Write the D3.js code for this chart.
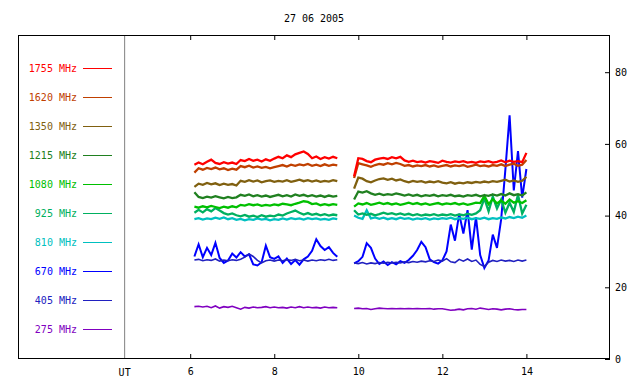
<!DOCTYPE html>
<html><head><meta charset="utf-8">
<script src="https://cdn.jsdelivr.net/npm/d3@7"></script>
<style>body{margin:0;background:#fff}svg text{font-family:"DejaVu Sans Mono",monospace;font-size:10px}</style>
</head><body><svg id="c" width="640" height="384"></svg>
<script>
const title = "27 06 2005";
const labels = ["1755 MHz","1620 MHz","1350 MHz","1215 MHz","1080 MHz","925 MHz","810 MHz","670 MHz","405 MHz","275 MHz"];
const colors = ["#ff0000","#c04000","#806010","#208020","#00c000","#00b060","#00c0c0","#0000ff","#2020c0","#8000c0"];
const hourTicks = [6,8,10,12,14];
const valueTicks = [0,20,40,60,80];
const utLabel = "UT";
const utHour = 4.44;

const t1 = [6.1,6.2,6.3,6.4,6.5,6.6,6.7,6.8,6.9,7.0,7.1,7.2,7.3,7.4,7.5,7.6,7.7,7.8,7.9,8.0,8.1,8.2,8.3,8.4,8.5,8.6,8.7,8.8,8.9,9.0,9.1,9.2,9.3,9.4,9.5];
const t2 = [9.9,10.0,10.1,10.2,10.3,10.4,10.5,10.6,10.7,10.8,10.9,11.0,11.1,11.2,11.3,11.4,11.5,11.6,11.7,11.8,11.9,12.0,12.1,12.2,12.3,12.4,12.5,12.6,12.7,12.8,12.9,13.0,13.1,13.2,13.3,13.4,13.5,13.6,13.7,13.8,13.9,14.0];

const f1755a = [54.2,54.8,54.3,55.0,55.6,54.7,54.4,54.9,54.5,54.8,54.4,55.5,55.2,55.8,55.3,55.6,55.1,55.7,55.3,55.9,56.4,56.0,56.8,56.3,57.1,57.5,57.9,57.2,56.0,56.5,55.8,56.3,55.9,56.4,56.0];
const f1755b = [51.0,56.0,55.8,55.2,54.9,55.6,55.9,56.1,55.8,56.3,56.0,56.4,55.4,55.0,55.3,54.9,55.1,54.8,55.2,55.0,54.7,55.3,55.0,54.8,55.1,54.9,55.2,54.8,55.0,54.7,55.1,54.9,55.2,54.8,55.0,55.4,54.9,55.3,55.0,55.2,54.9,57.5];
const f1620a = [52.0,53.2,52.8,53.3,53.0,53.4,52.9,53.2,52.7,53.1,52.8,53.8,53.5,53.9,53.4,53.7,53.3,53.6,53.2,53.5,53.8,54.1,53.7,54.2,53.9,54.3,54.0,54.4,53.9,54.2,53.8,54.3,53.9,54.2,54.0];
const f1620b = [50.5,54.6,54.3,54.0,53.6,54.1,54.4,54.2,54.6,54.3,54.7,54.4,53.9,54.1,53.7,54.0,53.8,54.1,53.7,54.0,53.6,53.9,54.1,53.7,54.0,53.8,54.1,53.6,53.9,54.2,53.8,54.0,53.7,54.1,53.9,54.3,53.8,54.2,54.5,53.9,54.2,55.5];
const f1350a = [48.0,48.9,48.6,49.1,48.7,49.0,48.5,48.9,48.6,48.8,48.4,49.7,49.4,49.9,49.5,49.8,49.3,49.6,49.8,49.4,49.7,49.5,49.9,49.4,49.7,50.0,49.6,49.9,49.5,49.8,49.4,49.7,49.5,49.9,49.6];
const f1350b = [47.5,50.6,50.3,49.6,49.3,49.8,50.2,50.4,50.0,50.3,49.8,50.1,49.6,49.3,49.7,49.4,49.6,49.2,49.5,49.3,49.6,49.2,49.0,49.3,48.9,49.2,49.0,49.3,49.1,49.4,49.2,49.5,49.3,49.6,49.4,49.7,50.0,49.5,49.8,49.4,49.7,50.8];
const f1215a = [46.5,45.2,44.9,45.3,45.0,45.4,45.1,44.8,45.2,44.9,45.1,45.8,45.5,45.9,45.4,45.7,45.3,45.6,45.2,45.5,45.8,45.4,45.7,45.3,45.9,45.5,45.8,45.4,45.7,45.3,45.6,45.2,45.6,45.3,45.5];
const f1215b = [44.5,46.7,46.4,46.8,46.2,45.8,46.1,45.7,46.0,45.8,46.2,45.9,45.6,45.9,45.5,45.8,45.4,45.7,45.5,45.8,45.4,45.7,45.5,45.8,45.4,45.6,45.3,45.7,45.5,45.8,45.4,45.7,45.5,45.9,45.6,46.0,45.6,46.2,45.7,46.0,45.6,46.5];
const f1080a = [42.5,42.2,42.6,42.3,42.7,42.4,42.1,42.5,42.2,42.6,42.3,43.0,42.8,43.2,42.9,43.1,42.7,43.0,42.8,43.1,42.9,43.3,43.1,42.9,43.3,43.6,44.0,43.8,43.2,43.4,42.9,43.2,42.9,43.2,43.0];
const f1080b = [42.5,43.4,43.1,43.5,43.0,43.3,43.6,43.2,43.5,43.1,43.4,43.0,43.3,43.6,43.2,43.5,43.1,43.4,43.0,43.3,43.5,43.1,43.4,43.2,43.5,43.1,43.4,43.0,43.3,43.6,43.5,45.5,43.2,44.6,43.4,44.2,43.3,44.5,43.6,44.0,43.5,44.3];
const f925a = [40.8,41.6,40.9,41.8,41.2,42.1,41.4,40.7,40.3,40.6,40.1,39.8,40.2,39.7,40.0,39.6,40.1,39.7,40.0,39.8,40.3,40.0,40.6,41.0,41.4,40.8,40.3,40.7,40.2,40.5,40.1,40.4,40.0,40.3,40.1];
const f925b = [41.5,40.3,40.6,40.2,40.5,40.1,40.4,40.8,40.4,40.7,40.3,40.6,40.2,40.5,40.1,40.4,40.0,40.3,40.1,40.4,40.0,40.3,40.1,40.4,40.0,40.3,40.1,40.5,40.2,40.6,41.5,44.8,41.2,45.3,42.0,44.5,40.8,43.6,41.0,45.8,40.6,43.0];
const f810a = [39.0,39.3,38.9,39.2,39.0,39.4,39.1,39.5,39.0,39.3,38.8,39.1,38.7,39.0,38.8,39.2,38.9,39.1,38.7,39.0,38.8,39.2,38.9,39.3,39.0,39.2,38.9,39.3,39.0,39.2,38.9,39.1,38.8,39.2,39.0];
const f810b = [40.0,39.4,39.1,41.5,39.2,39.5,39.1,39.4,39.0,39.3,39.0,39.4,39.1,39.3,38.9,39.2,39.0,39.3,38.9,39.2,39.0,39.3,39.1,39.4,39.0,39.3,39.1,39.4,39.0,39.3,39.1,39.4,39.0,39.3,39.1,39.5,39.2,39.6,39.3,39.7,39.4,40.0];
const f670a = [28.6,32.0,28.4,31.0,29.0,32.4,28.2,26.8,27.5,29.4,28.3,29.8,28.6,29.2,26.4,26.1,27.0,31.6,28.4,27.9,28.6,26.8,28.0,26.5,27.6,26.3,27.8,28.6,30.2,33.4,31.5,30.4,31.2,29.6,28.5];
const f670b = [26.7,27.3,28.5,32.3,31.0,28.0,26.5,27.2,26.2,27.0,26.4,27.3,26.8,27.6,28.8,30.4,32.7,31.2,27.8,27.0,26.6,27.5,30.0,37.5,33.0,40.5,35.0,41.5,30.5,39.6,29.0,25.4,27.5,34.7,31.0,39.0,52.9,68.0,47.0,58.0,45.0,53.0];
const f405a = [27.6,27.8,27.4,27.7,27.5,27.9,27.3,27.6,27.4,27.7,27.5,27.8,28.4,29.3,28.6,27.5,26.8,27.4,27.6,27.3,27.6,27.4,27.7,27.5,27.8,27.4,27.6,27.3,27.6,27.4,27.7,27.5,27.8,27.5,27.7];
const f405b = [26.8,26.6,26.9,26.5,26.8,26.6,26.9,26.7,27.0,26.8,27.0,26.8,27.1,26.9,27.2,27.0,27.3,27.1,27.4,27.2,27.6,27.3,28.0,27.1,26.9,27.8,27.3,27.9,27.2,27.6,26.4,25.8,27.0,27.5,27.2,27.6,27.3,27.5,27.2,27.6,27.3,27.6];
const f275a = [14.6,14.7,14.5,14.7,14.3,14.8,14.2,14.6,14.4,14.7,14.3,13.9,14.4,14.2,14.5,14.3,14.4,14.6,14.3,14.5,14.3,14.4,14.2,14.5,14.3,14.6,14.3,14.5,14.3,14.4,14.2,14.5,14.3,14.4,14.3];
const f275b = [14.1,14.2,14.0,14.1,13.8,14.0,14.2,14.1,14.0,14.1,14.0,14.1,14.0,14.1,14.0,14.1,14.0,14.0,14.1,13.9,14.0,14.0,13.8,13.6,13.7,13.9,13.7,14.0,14.1,13.9,14.2,14.0,13.8,14.0,13.9,13.7,13.9,14.0,13.8,13.7,13.8,13.8];

const segA = [f1755a,f1620a,f1350a,f1215a,f1080a,f925a,f810a,f670a,f405a,f275a];
const segB = [f1755b,f1620b,f1350b,f1215b,f1080b,f925b,f810b,f670b,f405b,f275b];
const series = labels.map((l,i)=>({label:l,color:colors[i],a:segA[i],b:segB[i]}));

const svg = d3.select("#c");
const L=18,R=610,T=35,B=359;
const x = d3.scaleLinear().domain([6,14]).range([190.2,526.4]);
const y = d3.scaleLinear().domain([0,90]).range([B,36.35]);

svg.append("rect").attr("width",640).attr("height",384).attr("fill","#fff");

svg.append("text").attr("x",(L+R)/2).attr("y",22).attr("text-anchor","middle").attr("fill","#000").text(title);

svg.append("line").attr("x1",x(utHour)).attr("x2",x(utHour)).attr("y1",T).attr("y2",B).attr("stroke","#808080").attr("stroke-width",1);

const line = d3.line().x(d=>x(d[0])).y(d=>y(d[1]));
const order = [7,8,9,6,5,4,3,2,1,0];
const g = svg.append("g");
order.forEach(i=>{
  const s = series[i];
  const w = (i===7) ? 2 : (i>=8 ? 1.6 : 2.3);
  g.append("path").attr("d",line(t1.map((t,k)=>[t,s.a[k]]))).attr("fill","none").attr("stroke",s.color).attr("stroke-width",w).attr("stroke-linejoin","miter");
  g.append("path").attr("d",line(t2.map((t,k)=>[t,s.b[k]]))).attr("fill","none").attr("stroke",s.color).attr("stroke-width",w).attr("stroke-linejoin","miter");
});

svg.append("rect").attr("x",L+0.5).attr("y",T+0.5).attr("width",R-L-1).attr("height",B-T-1).attr("fill","none").attr("stroke","#000").attr("stroke-width",1);

const ax = svg.append("g").attr("transform",`translate(0,${B})`).call(d3.axisBottom(x).tickValues(hourTicks).tickSizeInner(-5).tickSizeOuter(0).tickPadding(9).tickFormat(d3.format("d")));
ax.select(".domain").remove();
const axTop = svg.append("g").attr("transform",`translate(0,${T})`).call(d3.axisTop(x).tickValues(hourTicks).tickSizeInner(-5).tickSizeOuter(0).tickFormat(""));
axTop.select(".domain").remove();
const ay = svg.append("g").attr("transform",`translate(${R},0)`).call(d3.axisRight(y).tickValues(valueTicks).tickSizeInner(-5).tickSizeOuter(0).tickPadding(5));
ay.select(".domain").remove();
svg.selectAll(".tick text").attr("fill","#000").style("font-family","DejaVu Sans Mono, monospace").style("font-size","10px");
svg.selectAll(".tick line").attr("stroke","#000");

svg.append("text").attr("x",x(utHour)).attr("y",B+17).attr("text-anchor","middle").attr("fill","#000").text(utLabel);

const lg = svg.append("g");
series.forEach((s,i)=>{
  const yy = 68 + i*29;
  lg.append("text").attr("x",77).attr("y",yy+3.5).attr("text-anchor","end").attr("fill",s.color).text(s.label);
  lg.append("line").attr("x1",83).attr("x2",112).attr("y1",yy+0.5).attr("y2",yy+0.5).attr("stroke",s.color).attr("stroke-width",1.2).attr("shape-rendering","crispEdges");
});
</script></body></html>
